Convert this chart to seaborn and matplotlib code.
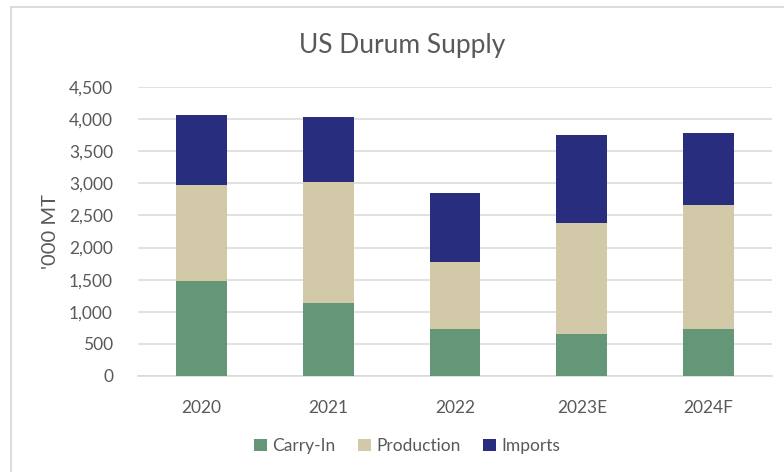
import matplotlib
matplotlib.use("Agg")
import matplotlib.pyplot as plt
from matplotlib.patches import Rectangle, Patch
import seaborn as sns
import pandas as pd
import numpy as np

years = ["2020", "2021", "2022", "2023E", "2024F"]
carry_in = [1480, 1140, 730, 650, 730]
production = [1490, 1880, 1045, 1730, 1940]
imports = [1100, 1020, 1080, 1375, 1110]

series_names = ["Carry-In", "Production", "Imports"]
colors = {"Carry-In": "#649678", "Production": "#D2C9A9", "Imports": "#282D7E"}

sns.set_theme(style="white")
plt.rcParams["font.family"] = ["Lato", "DejaVu Sans"]

df = pd.DataFrame({"year": years, "Carry-In": carry_in,
                   "Production": production, "Imports": imports})
df["lvl1"] = df["Carry-In"]
df["lvl2"] = df["Carry-In"] + df["Production"]
df["lvl3"] = df["lvl2"] + df["Imports"]

fig = plt.figure(figsize=(7.84, 4.72), dpi=100)
ax = fig.add_axes([138/784, 1-376/472, (772-138)/784, (376-87)/472])

for lvl, name in [("lvl3", "Imports"), ("lvl2", "Production"), ("lvl1", "Carry-In")]:
    sns.barplot(data=df, x="year", y=lvl, color=colors[name], saturation=1,
                width=0.4, linewidth=0, ax=ax, zorder=3, errorbar=None)

ax.set_ylim(0, 4500)
ax.set_yticks(np.arange(0, 4501, 500))
ax.set_yticklabels([f"{v:,}" for v in range(0, 4501, 500)])
ax.grid(axis="y", color="#D9D9D9", linewidth=1.1, zorder=0)
ax.set_axisbelow(True)
for s in ["top", "right", "left"]:
    ax.spines[s].set_visible(False)
ax.spines["bottom"].set_color("#D9D9D9")
ax.spines["bottom"].set_linewidth(1.1)
ax.tick_params(axis="both", length=0, labelsize=12.5, colors="#595959")
ax.tick_params(axis="y", pad=18)
ax.tick_params(axis="x", pad=17)
ax.set_xlabel("")
ax.set_ylabel("'000 MT", fontsize=14.5, color="#595959", labelpad=7)

fig.suptitle("US Durum Supply", x=402/784, y=1-45/472, va="center",
             fontsize=19, color="#595959")

handles = [Patch(facecolor=colors[n], edgecolor="none") for n in series_names]
fig.legend(handles, series_names, loc="center", bbox_to_anchor=(407/784, 1-446/472),
           ncol=3, frameon=False, fontsize=12.5, labelcolor="#595959",
           handlelength=0.75, handleheight=0.75, handletextpad=0.3, columnspacing=1.3)

fig.patches.append(Rectangle((11/784, -0.1), 1.2, 1 - 6.5/472 + 0.1,
                             transform=fig.transFigure, fill=False,
                             edgecolor="#D9D9D9", linewidth=1.3))

fig.savefig("out.png", dpi=100)
